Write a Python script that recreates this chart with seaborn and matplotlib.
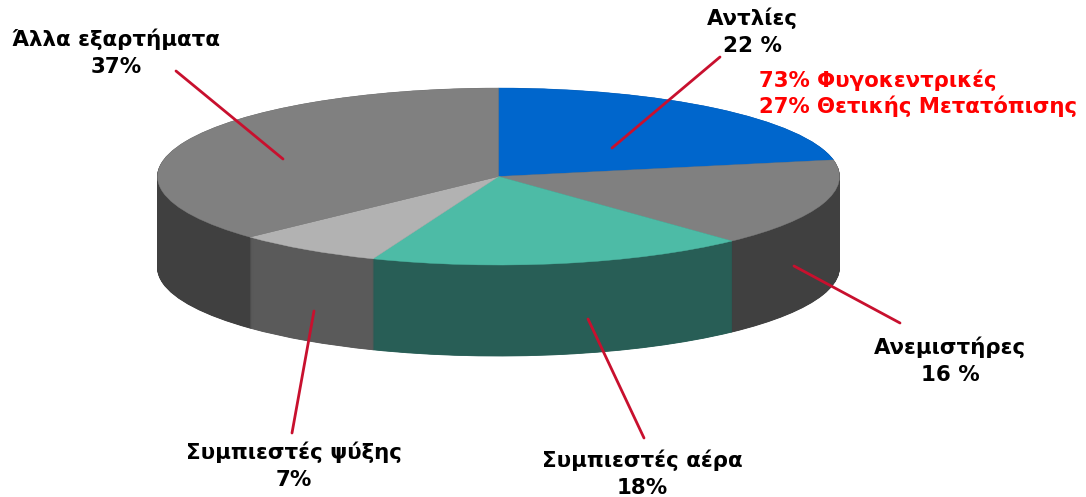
import numpy as np
import matplotlib
matplotlib.use("Agg")
import matplotlib.pyplot as plt
import seaborn as sns

labels = ["Αντλίες\n22 %", "Ανεμιστήρες\n16 %", "Συμπιεστές αέρα\n18%", "Συμπιεστές ψύξης\n7%", "Άλλα εξαρτήματα\n37%"]
values = [22, 16, 18, 7, 37]
top_colors = ["#0066CC", "#808080", "#4DBBA6", "#B2B2B2", "#808080"]
side_colors = ["#00336A", "#404040", "#285E56", "#5A5A5A", "#404040"]
pump_note = "73% Φυγοκεντρικές\n27% Θετικής Μετατόπισης"

# ellipse geometry in pixels
W, H = 1086, 497
CX, CY, RX, RY, DEPTH = 498.5, 176.5, 341, 88.5, 91

sns.set_theme(style="white")
plt.rcParams["font.family"] = ["DejaVu Sans"]

fig = plt.figure(figsize=(W / 100, H / 100), dpi=100)
ax = fig.add_axes([0, 0, 1, 1])

# stack of pies for the side wall, then the top
for d in np.arange(DEPTH, 0, -0.5):
    wedges, _ = ax.pie(values, colors=side_colors, startangle=90, counterclock=False,
                       center=(0, -d / RY), radius=1)
    for w in wedges:
        w.set_edgecolor(w.get_facecolor())
        w.set_linewidth(0.6)
wedges, _ = ax.pie(values, colors=top_colors, startangle=90, counterclock=False,
                   center=(0, 0), radius=1)
for w in wedges:
    w.set_edgecolor(w.get_facecolor())
    w.set_linewidth(0.3)

ax.set_aspect("auto")
ax.set_xlim(-CX / RX, (W - CX) / RX)
ax.set_ylim(-(H - CY) / RY, CY / RY)
ax.axis("off")


def pt(x, y):
    return (x / W, 1 - y / H)


# leader lines
leaders = [((720, 57), (612, 148)), ((900, 323), (794, 266)), ((644, 438), (588, 319)),
           ((292, 433), (314, 311)), ((176, 71), (283, 159))]
for a, b in leaders:
    fig.add_artist(plt.Line2D([pt(*a)[0], pt(*b)[0]], [pt(*a)[1], pt(*b)[1]],
                              color="#C8102E", lw=2, transform=fig.transFigure))

label_pos = [(752, 32), (950, 361), (642, 474), (294, 466), (116, 53)]
for s, (x, y) in zip(labels, label_pos):
    fig.text(*pt(x, y), s, ha="center", va="center", fontsize=15.4, fontweight="bold",
             color="black", linespacing=1.42)
fig.text(*pt(759, 93), pump_note, ha="left", va="center", fontsize=15.3, fontweight="bold",
         color="#FF0000", linespacing=1.25)

fig.savefig("out.png", dpi=100)
